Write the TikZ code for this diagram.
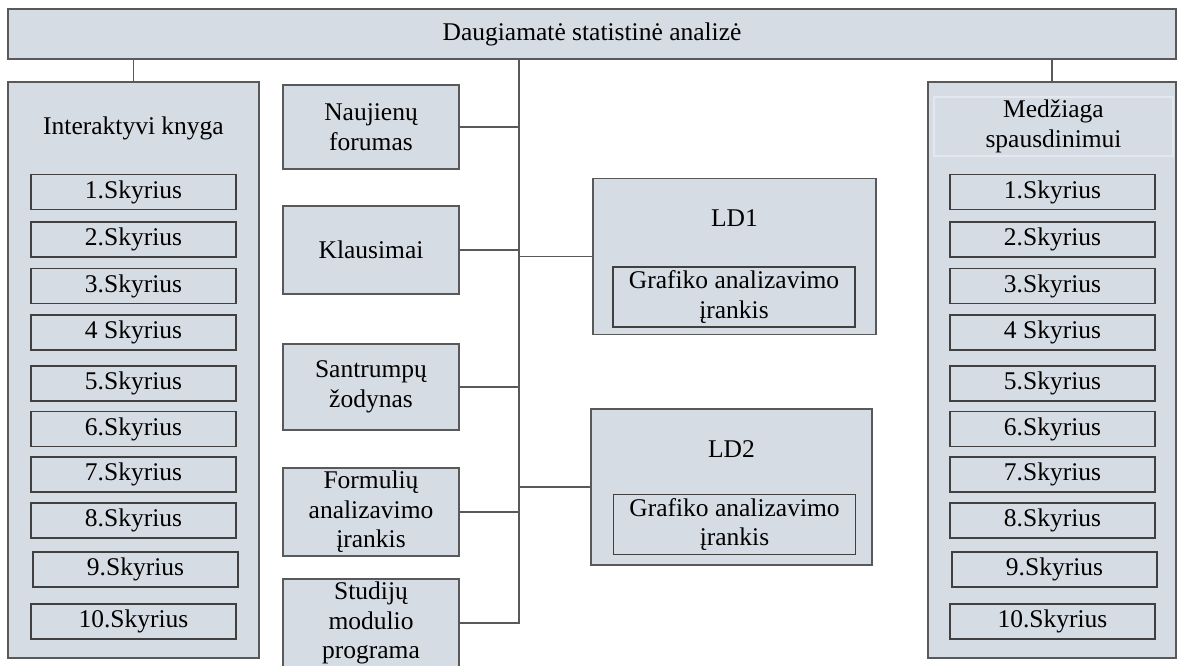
\documentclass[tikz,border=0pt]{standalone}
\usepackage{fontspec}
\setmainfont{Liberation Serif}
\definecolor{boxfill}{HTML}{D6DCE4}
\definecolor{boxline}{HTML}{595959}
\definecolor{itemline}{HTML}{404040}
\definecolor{faintline}{HTML}{E4E8EE}

\begin{document}
\begin{tikzpicture}[
          x=1pt, y=-1pt,
          font=\fontsize{25.5pt}{29.5pt}\selectfont,
          box/.style={draw=boxline, fill=boxfill, line width=1.2pt, align=center, inner sep=0pt},
          item_box/.style={box, draw=itemline, minimum width=205pt, minimum height=35pt},
          mid_box/.style={box, minimum width=176pt},
          ld_box/.style={box, minimum height=156pt},
          tool_box/.style={box, draw=itemline, minimum width=242pt, minimum height=60pt},
          line/.style={draw=boxline, line width=1.2pt}
      ]
          \useasboundingbox (0,0) rectangle (1178,665);

          % Pagrindinis blokas
          \node[box, minimum width=1168pt, minimum height=50pt] (top) at (592, 34) {Daugiamatė statistinė analizė};
          \coordinate (trunk) at (519, 0);

          % Interaktyvi knyga ir medžiaga spausdinimui
          \node[box, minimum width=251pt, minimum height=576pt] (book) at (133.5, 370) {};
          \node (book_title) at (133.5, 128) {Interaktyvi knyga};
          \node[box, minimum width=248pt, minimum height=576pt] (print) at (1052, 370) {};
          \node[box, draw=faintline, minimum width=239pt, minimum height=59pt] (print_title) at (1053.5, 126.5) {Medžiaga\\spausdinimui};

          \foreach \n/\t/\y/\dx in {1/1.Skyrius/192/0, 2/2.Skyrius/239.5/0, 3/3.Skyrius/286/0,
                4/4 Skyrius/332.5/0, 5/5.Skyrius/383.5/0, 6/6.Skyrius/429/0, 7/7.Skyrius/474.5/0,
                8/8.Skyrius/520.5/0, 9/9.Skyrius/569.5/2, 10/10.Skyrius/621.5/0} {
            \node[item_box] (book\n) at (133.5+\dx, \y) {\t};
            \node[item_box] (print\n) at (1052.5+\dx, \y) {\t};
          }

          % Vidurinis stulpelis
          \node[mid_box, minimum height=84pt] (news) at (371, 127) {Naujienų\\forumas};
          \node[mid_box, minimum height=88pt] (quest) at (371, 250) {Klausimai};
          \node[mid_box, minimum height=86pt] (abbr) at (371, 387) {Santrumpų\\žodynas};
          \node[mid_box, minimum height=88pt] (formula) at (371, 512) {Formulių\\analizavimo\\įrankis};
          \node[mid_box, minimum height=88pt] (program) at (371, 623) {Studijų\\modulio\\programa};

          % Laboratoriniai darbai
          \node[ld_box, minimum width=283pt] (ld1) at (734.5, 256.5) {};
          \node (ld1_title) at (734.5, 218) {LD1};
          \node[tool_box] (ld1_tool) at (734, 297) {Grafiko analizavimo\\įrankis};
          \node[ld_box, minimum width=281pt] (ld2) at (731.5, 487) {};
          \node (ld2_title) at (731.5, 449) {LD2};
          \node[tool_box] (ld2_tool) at (734.5, 524.5) {Grafiko analizavimo\\įrankis};

          % Jungtys
          \draw[line] (top.south -| book.north) -- (book.north);
          \draw[line] (top.south -| print.north) -- (print.north);
          \draw[line] (top.south -| trunk) |- (program.east);
          \draw[line] (news.east) -- (news.east -| trunk);
          \draw[line] (quest.east) -- (quest.east -| trunk);
          \draw[line] (abbr.east) -- (abbr.east -| trunk);
          \draw[line] (formula.east) -- (formula.east -| trunk);
          \draw[line] (ld1.west -| trunk) -- (ld1.west);
          \draw[line] (ld2.west -| trunk) -- (ld2.west);
      \end{tikzpicture}
\end{document}
